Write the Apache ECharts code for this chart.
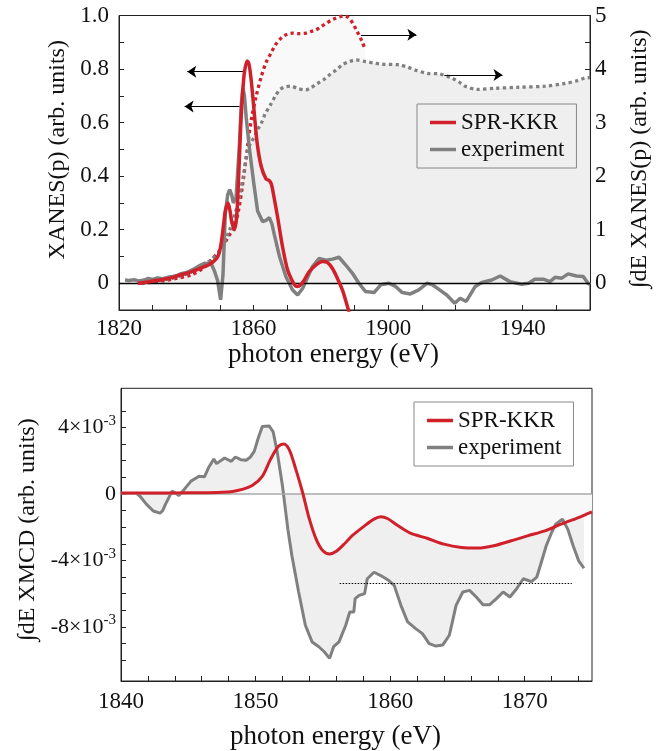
<!DOCTYPE html>
<html><head><meta charset="utf-8">
<script src="https://cdn.jsdelivr.net/npm/echarts@6/dist/echarts.min.js"></script>
<style>html,body{margin:0;padding:0;background:#fff}#c{width:660px;height:751px}</style>
</head><body><div id="c"></div>
<script>
const FONT = 'Liberation Serif';
const RED = '#d0202a';
const GRAY = '#808080';

// ---------- top panel: XANES ----------
const topXLabels = [1820, 1860, 1900, 1940];
const topXTicks = [1820,1830,1840,1850,1860,1870,1880,1890,1900,1910,1920,1930,1940,1950,1960];
const topLeftLabels = [0, 0.2, 0.4, 0.6, 0.8, 1.0];
const topLeftTicks = [0,0.1,0.2,0.3,0.4,0.5,0.6,0.7,0.8,0.9,1.0];
const topRightLabels = [0,1,2,3,4,5];
const topRightTicks = [0,0.5,1,1.5,2,2.5,3,3.5,4,4.5,5];

const xanesExp = [[1821.8,0.012],[1823,0.010],[1824.5,0.013],[1826,0.008],[1827.5,0.012],[1828.7,0.018],[1830,0.014],[1831.5,0.020],[1833,0.017],[1834.5,0.022],[1836,0.025],[1837.5,0.030],[1838.5,0.036],[1840,0.040],[1841.5,0.048],[1842.5,0.055],[1844,0.066],[1845.5,0.075],[1846.5,0.072],[1847.2,0.079],[1848.4,0.045],[1849.3,0.01],[1850.2,-0.062],[1850.9,0.03],[1851.6,0.26],[1852.3,0.33],[1852.9,0.35],[1853.5,0.33],[1854,0.30],[1854.8,0.32],[1855.8,0.52],[1856.3,0.66],[1856.8,0.73],[1857.3,0.70],[1857.8,0.62],[1858.8,0.50],[1860.1,0.37],[1861.2,0.27],[1862.7,0.23],[1863.7,0.235],[1864.7,0.245],[1865.5,0.22],[1866.2,0.18],[1867.7,0.10],[1869.6,0.025],[1871.6,-0.025],[1873.1,-0.044],[1874.6,-0.019],[1876,0.02],[1877.5,0.062],[1879.5,0.093],[1881.5,0.086],[1883.5,0.09],[1885.4,0.097],[1887.4,0.068],[1889.4,0.037],[1891.3,0.0],[1893.3,-0.031],[1895.8,-0.035],[1897.8,-0.006],[1900.2,0.0],[1902.2,-0.012],[1904.2,-0.035],[1906.6,-0.04],[1909.1,-0.025],[1911.6,0.0],[1913,-0.005],[1915,-0.022],[1917.5,-0.045],[1919.8,-0.075],[1921.4,-0.056],[1923.2,-0.068],[1925.9,-0.012],[1927.8,0.003],[1930.8,0.012],[1933.3,0.027],[1936.2,0.006],[1939.7,-0.004],[1941.7,0.0],[1943.6,0.015],[1946.1,0.015],[1948.1,0.006],[1949.6,0.022],[1951.6,0.019],[1953.5,0.035],[1956,0.027],[1958,0.025],[1959.4,0.0],[1960,-0.005]];

const xanesKKR = [[1825.6,0],[1828,0.004],[1830,0.008],[1833,0.014],[1836,0.022],[1838,0.03],[1840,0.037],[1842,0.045],[1844,0.055],[1846,0.065],[1848,0.08],[1849.4,0.10],[1850.1,0.13],[1850.6,0.17],[1851.1,0.22],[1851.6,0.27],[1852.4,0.30],[1853,0.27],[1853.5,0.23],[1854.3,0.20],[1854.9,0.24],[1855.3,0.32],[1855.8,0.47],[1856.3,0.62],[1856.8,0.72],[1857.3,0.79],[1858.1,0.83],[1858.6,0.82],[1859.1,0.78],[1859.6,0.72],[1860.1,0.65],[1861.1,0.52],[1862.3,0.435],[1863.7,0.39],[1864.7,0.383],[1865.3,0.37],[1865.8,0.34],[1867.1,0.25],[1868.6,0.137],[1870.1,0.05],[1871.6,0.006],[1872.5,-0.01],[1873.1,-0.012],[1874.6,0.003],[1876.5,0.043],[1878.5,0.068],[1880.5,0.081],[1882,0.077],[1883.4,0.056],[1884.9,0.019],[1886.4,-0.025],[1887.9,-0.087],[1888.6,-0.12]];

const intKKR = [[1826.7,0],[1830,0.02],[1833.6,0.05],[1837,0.09],[1841.5,0.155],[1845,0.28],[1847.4,0.435],[1849.5,0.58],[1851.4,0.75],[1853,0.92],[1854.3,1.06],[1855.5,1.35],[1856.8,1.87],[1858,2.45],[1859.3,3.05],[1860.8,3.5],[1862.3,3.86],[1863.7,4.12],[1865.2,4.3],[1866.7,4.47],[1868.6,4.60],[1870,4.65],[1871.6,4.67],[1873.5,4.66],[1875.5,4.67],[1877,4.70],[1878.5,4.73],[1880,4.79],[1881.5,4.85],[1883,4.91],[1884.4,4.95],[1885.8,4.98],[1886.9,4.99],[1888,4.97],[1888.8,4.92],[1889.8,4.82],[1890.8,4.70],[1891.6,4.60],[1892.3,4.51],[1893.2,4.36]];

const intExp = [[1826,0],[1830,0.03],[1835,0.08],[1840,0.17],[1844,0.3],[1847,0.42],[1850,0.6],[1852.9,1.0],[1854.5,1.3],[1855.8,1.62],[1857,2.02],[1858.3,2.49],[1859.3,2.63],[1860.3,2.74],[1861.3,2.88],[1862.3,2.99],[1863.5,3.17],[1865,3.33],[1866.5,3.5],[1867.7,3.61],[1869,3.66],[1871.1,3.68],[1873,3.64],[1875.5,3.61],[1877,3.65],[1879,3.73],[1881,3.81],[1882.5,3.89],[1884.5,3.98],[1886.4,4.08],[1888.5,4.14],[1890.3,4.17],[1893.3,4.14],[1896,4.11],[1898.2,4.09],[1903.2,4.08],[1906,4.03],[1908.1,3.98],[1911.6,3.92],[1915,3.91],[1919,3.83],[1921,3.76],[1922.9,3.68],[1926.4,3.62],[1931.8,3.64],[1938.7,3.66],[1946.6,3.68],[1952.5,3.73],[1956,3.78],[1958.4,3.83],[1960,3.84]];

// arrows (annotation): [x0, x1, y]
const leftArrows = [[1857.3, 1840.3, 0.79], [1855.8, 1839.5, 0.66]];
const rightArrows = [[1891.9, 1908.4, 4.64], [1916.7, 1934.0, 3.89]];

// ---------- bottom panel: XMCD (values in units of 1e-3) ----------
const botXLabels = [1840, 1850, 1860, 1870];
const botXTicks = [1840,1842,1844,1846,1848,1850,1852,1854,1856,1858,1860,1862,1864,1866,1868,1870,1872,1874];
const botYLabels = [-8, -4, 0, 4];
const botYTicks = [-10,-9,-8,-7,-6,-5,-4,-3,-2,-1,0,1,2,3,4,5];

const xmcdExp = [[1841.1,0.07],[1841.4,-0.13],[1841.9,-0.63],[1842.4,-1.03],[1842.9,-1.16],[1843.1,-1.0],[1843.3,-0.63],[1843.8,0.17],[1844.3,-0.09],[1844.7,0.27],[1845.2,0.77],[1845.8,1.06],[1846.2,1.03],[1846.5,1.57],[1846.9,2.1],[1847.1,1.82],[1847.7,2.16],[1848.2,1.96],[1848.5,2.22],[1848.9,2.06],[1849.3,2.02],[1849.6,2.2],[1849.9,2.56],[1850.2,3.36],[1850.5,4.05],[1851,4.09],[1851.3,3.75],[1851.6,2.56],[1852,0.47],[1852.4,-2.12],[1852.7,-3.72],[1853.2,-5.9],[1853.7,-7.9],[1854.2,-8.9],[1854.7,-9.19],[1855.1,-9.49],[1855.5,-9.89],[1855.8,-9.19],[1856.2,-8.9],[1856.7,-7.9],[1857,-7.1],[1857.3,-7.1],[1857.4,-6.3],[1857.7,-6.1],[1858.1,-6.0],[1858.3,-5.1],[1858.8,-4.71],[1859.3,-4.91],[1859.9,-5.21],[1860.3,-5.5],[1860.8,-6.7],[1861.3,-7.7],[1861.9,-8.1],[1862.4,-8.4],[1862.9,-9.0],[1863.4,-9.15],[1863.9,-9.09],[1864.4,-8.5],[1864.9,-6.7],[1865.4,-5.9],[1865.9,-5.8],[1866.4,-6.2],[1866.9,-6.66],[1867.4,-6.66],[1867.9,-6.3],[1868.4,-5.9],[1868.9,-6.2],[1869.4,-5.7],[1869.9,-5.1],[1870.5,-5.27],[1870.9,-5.0],[1871.2,-4.2],[1871.6,-3.12],[1872,-2.32],[1872.3,-1.82],[1872.8,-1.52],[1873.2,-2.12],[1873.6,-3.12],[1874,-4.01],[1874.4,-4.47]];

const xmcdKKR = [[1840,0.05],[1842,0.05],[1844,0.06],[1846,0.07],[1847.5,0.1],[1848.3,0.15],[1849,0.27],[1849.75,0.5],[1850.5,1.06],[1851.1,2.06],[1851.7,2.86],[1852.1,3.0],[1852.5,2.66],[1853,1.46],[1853.5,0.07],[1854,-1.52],[1854.5,-2.72],[1855,-3.42],[1855.5,-3.61],[1856,-3.45],[1856.7,-2.92],[1857.2,-2.5],[1858.1,-1.92],[1858.8,-1.52],[1859.3,-1.38],[1859.8,-1.48],[1860.6,-1.92],[1861.5,-2.36],[1862.8,-2.68],[1864,-3.02],[1865.3,-3.22],[1866.5,-3.26],[1867.7,-3.12],[1869,-2.82],[1870.2,-2.52],[1871.5,-2.22],[1872.7,-1.82],[1874,-1.42],[1875,-1.08]];

const dottedRef = [1856.25, 1873.5, -5.37];

// ---------- chart ----------
const txt = {fontFamily: FONT, color: '#111'};
const frame = '#222';

function xAxis(grid, min, max, ticks, labels, gap, margin) {
  return {
    gridIndex: grid, type: 'value', min, max,
    axisLine: {show: true, onZero: false, lineStyle: {color: frame, width: 1}},
    axisTick: {show: true, inside: true, length: 5, customValues: ticks, lineStyle: {color: frame, width: 1}},
    axisLabel: Object.assign({customValues: labels, fontSize: 23, margin, formatter: v => String(v)}, txt),
    splitLine: {show: false},
    name: 'photon energy (eV)', nameLocation: 'middle', nameGap: gap,
    nameTextStyle: {fontFamily: FONT, color: '#111', fontSize: 27, padding: [0, 42, 0, 0]}
  };
}

const option = {
  animation: false,
  backgroundColor: '#fff',
  grid: [
    {left: 119, top: 15.5, width: 472, height: 294.5, show: true, borderColor: frame, borderWidth: 1},
    {left: 121, top: 388.3, width: 471, height: 294.4, show: true, borderColor: frame, borderWidth: 1}
  ],
  xAxis: [
    xAxis(0, 1820, 1960, topXTicks, topXLabels, 31, 7),
    xAxis(1, 1840, 1875, botXTicks, botXLabels, 42, 9)
  ],
  yAxis: [
    {gridIndex: 0, type: 'value', position: 'left', min: -0.1, max: 1.0,
     axisLine: {show: true, onZero: false, lineStyle: {color: frame}},
     axisTick: {show: true, inside: true, length: 5, customValues: topLeftTicks, lineStyle: {color: frame}},
     axisLabel: Object.assign({customValues: topLeftLabels, fontSize: 23, margin: 10,
        formatter: v => v === 0 ? '0' : v.toFixed(1)}, txt),
     splitLine: {show: false},
     name: 'XANES(p) (arb. units)', nameLocation: 'middle', nameGap: 48,
     nameTextStyle: {fontFamily: FONT, color: '#111', fontSize: 24, padding: [0, 0, 0, 26]}},
    {gridIndex: 0, type: 'value', position: 'right', min: -0.5, max: 5,
     axisLine: {show: true, onZero: false, lineStyle: {color: frame}},
     axisTick: {show: true, inside: true, length: 5, customValues: topRightTicks, lineStyle: {color: frame}},
     axisLabel: Object.assign({customValues: topRightLabels, fontSize: 23, margin: 5,
        formatter: v => String(v)}, txt),
     splitLine: {show: false},
     name: '\u222BdE XANES(p) (arb. units)', nameLocation: 'middle', nameGap: 38,
     nameTextStyle: {fontFamily: FONT, color: '#111', fontSize: 24, padding: [0, 0, 0, 8]}},
    {gridIndex: 1, type: 'value', position: 'left', min: -11.25, max: 6.35,
     axisLine: {show: true, onZero: false, lineStyle: {color: frame}},
     axisTick: {show: true, inside: true, length: 5, customValues: botYTicks, lineStyle: {color: frame}},
     axisLabel: Object.assign({customValues: botYLabels, fontSize: 22, margin: 5,
        formatter: v => v === 0 ? '0' : v + '\u00D710{s|-3}',
        rich: {s: {fontSize: 15, fontFamily: FONT, color: '#111', verticalAlign: 'bottom', padding: [0, 0, 13, 0]}}}, txt),
     splitLine: {show: false},
     name: '\u222BdE XMCD (arb. units)', nameLocation: 'middle', nameGap: 80,
     nameTextStyle: {fontFamily: FONT, color: '#111', fontSize: 24, padding: [0, 0, 0, 10]}}
  ],
  legend: [
    {data: ['SPR-KKR', 'experiment'], left: 417, top: 104, orient: 'vertical', icon: 'rect',
     itemWidth: 26, itemHeight: 3.5, itemGap: 4, padding: [7, 12, 7, 13], borderColor: '#888', borderWidth: 1,
     textStyle: {fontSize: 23, fontFamily: FONT, color: '#111'}, selectedMode: false},
    {data: ['SPR-KKR', 'experiment'], left: 414, top: 402, orient: 'vertical', icon: 'rect',
     itemWidth: 26, itemHeight: 3.5, itemGap: 4, padding: [7, 12, 7, 13], borderColor: '#888', borderWidth: 1,
     textStyle: {fontSize: 23, fontFamily: FONT, color: '#111'}, selectedMode: false}
  ],
  series: [
    // top fills
    {name: 'kkr-int-fill', type: 'line', xAxisIndex: 0, yAxisIndex: 1, data: intKKR, symbol: 'none', smooth: 0.3,
     lineStyle: {width: 0}, areaStyle: {color: '#f9f9f9', opacity: 1, origin: 0}, silent: true, z: 1},
    {name: 'exp-int-fill', type: 'line', xAxisIndex: 0, yAxisIndex: 1, data: intExp, symbol: 'none', smooth: 0.3,
     lineStyle: {width: 0}, areaStyle: {color: '#efefef', opacity: 1, origin: 0}, silent: true, z: 1},
    // top dotted integrals
    {name: 'kkr-int', type: 'line', xAxisIndex: 0, yAxisIndex: 1, data: intKKR, symbol: 'none', smooth: 0.3,
     color: RED, lineStyle: {width: 3.3, type: [3.3, 3.3], cap: 'butt', color: RED}, z: 3},
    {name: 'exp-int', type: 'line', xAxisIndex: 0, yAxisIndex: 1, data: intExp, symbol: 'none', smooth: 0.3,
     color: GRAY, lineStyle: {width: 3.3, type: [3.3, 3.3], cap: 'butt', color: GRAY}, z: 3,
     markLine: {silent: true, symbol: ['none', 'arrow'], symbolSize: 9, label: {show: false},
       lineStyle: {color: '#000', width: 1.2, type: 'solid'},
       data: rightArrows.map(a => [{coord: [a[0], a[2]]}, {coord: [a[1], a[2]]}])}},
    // top solid
    {name: 'experiment', type: 'line', xAxisIndex: 0, yAxisIndex: 0, data: xanesExp, symbol: 'none',
     color: GRAY, lineStyle: {width: 3.5, color: GRAY}, z: 4,
     markLine: {silent: true, symbol: ['none', 'none'], label: {show: false},
       lineStyle: {color: '#000', width: 1.3, type: 'solid'}, data: [{yAxis: 0}]}},
    {name: 'SPR-KKR', type: 'line', xAxisIndex: 0, yAxisIndex: 0, data: xanesKKR, symbol: 'none', smooth: 0.3,
     color: RED, lineStyle: {width: 3.5, color: RED}, z: 5,
     markLine: {silent: true, symbol: ['none', 'arrow'], symbolSize: 9, label: {show: false},
       lineStyle: {color: '#000', width: 1.2, type: 'solid'},
       data: leftArrows.map(a => [{coord: [a[0], a[2]]}, {coord: [a[1], a[2]]}])}},
    // bottom fills
    {name: 'exp-xmcd-fill', type: 'line', xAxisIndex: 1, yAxisIndex: 2, data: xmcdExp, symbol: 'none',
     lineStyle: {width: 0}, areaStyle: {color: '#efefef', opacity: 1, origin: 0}, silent: true, z: 1},
    {name: 'kkr-xmcd-fill', type: 'line', xAxisIndex: 1, yAxisIndex: 2, data: xmcdKKR, symbol: 'none', smooth: 0.3,
     lineStyle: {width: 0}, areaStyle: {color: '#f8f8f8', opacity: 1, origin: 0}, silent: true, z: 1,
     markLine: {silent: true, symbol: ['none', 'none'], label: {show: false},
       lineStyle: {color: '#aaa', width: 1.5, type: 'solid'}, data: [{yAxis: 0}]}},
    {name: 'experiment', type: 'line', xAxisIndex: 1, yAxisIndex: 2, data: xmcdExp, symbol: 'none',
     color: GRAY, lineStyle: {width: 3, color: GRAY}, z: 4,
     markLine: {silent: true, symbol: ['none', 'none'], label: {show: false},
       lineStyle: {color: '#000', width: 1, type: [1.5, 1.5]},
       data: [[{coord: [dottedRef[0], dottedRef[2]]}, {coord: [dottedRef[1], dottedRef[2]]}]]}},
    {name: 'SPR-KKR', type: 'line', xAxisIndex: 1, yAxisIndex: 2, data: xmcdKKR, symbol: 'none', smooth: 0.3,
     color: RED, lineStyle: {width: 3, color: RED}, z: 5}
  ]
};
const chart = echarts.init(document.getElementById('c'));
chart.setOption(option);
</script></body></html>
